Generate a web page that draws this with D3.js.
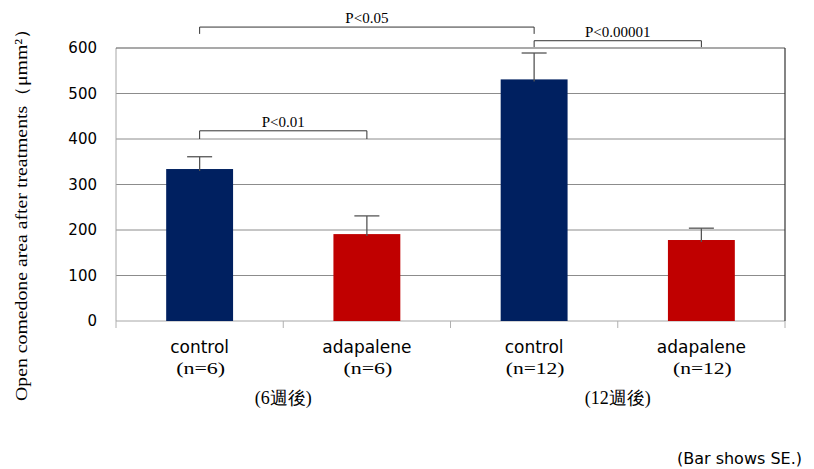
<!DOCTYPE html>
<html><head><meta charset="utf-8">
<script src="https://cdn.jsdelivr.net/npm/d3@7"></script>
<style>html,body{margin:0;padding:0;background:#fff;}svg{display:block;}</style>
</head><body>
<svg id="chart" width="814" height="469"></svg>
<script>
const categories = ["control", "adapalene", "control", "adapalene"];
const nLabels = ["(n=6)", "(n=6)", "(n=12)", "(n=12)"];
const means = [334, 191, 531, 178];
const se = [27, 40, 58, 26];
const barColors = ["#002060", "#C00000", "#002060", "#C00000"];
const groupLabels = ["(6週後)", "(12週後)"];
const groupMembers = [[0, 1], [2, 3]];
const yTicks = [0, 100, 200, 300, 400, 500, 600];
const pLabels = ["P<0.05", "P<0.01", "P<0.00001"];
const pFrom = [0, 0, 2];
const pTo = [2, 1, 3];
const pTop = [646, 418, 616];
const pLegEnd = [631, 400, 602];
const yTitle = "Open comedone area after treatments（μmm²）";
const note = "(Bar shows SE.)";

(function () {
const svg = d3.select("#chart");
const pl = 116, pr = 785, pt = 48, pb = 321;
const x = d3.scaleBand().domain(d3.range(categories.length)).range([pl, pr]).paddingInner(0.6).paddingOuter(0.3);
const y = d3.scaleLinear().domain([0, 600]).range([pb, pt]);
const cx = i => x(i) + x.bandwidth() / 2;
const serif = "'Liberation Serif','Times New Roman',serif";
const sans = "'DejaVu Sans',Verdana,sans-serif";

svg.append("g").selectAll("line").data(yTicks.filter(t => t > 0 && t < 600)).join("line")
  .attr("x1", pl).attr("x2", pr).attr("y1", d => y(d)).attr("y2", d => y(d))
  .attr("stroke", "#8c8c8c").attr("stroke-width", 1);
svg.append("line").attr("x1", pl).attr("x2", pl).attr("y1", y(600)).attr("y2", y(0))
  .attr("stroke", "#a6a6a6");
svg.append("line").attr("x1", pl).attr("x2", pr).attr("y1", y(0)).attr("y2", y(0))
  .attr("stroke", "#a6a6a6");
const bounds = d3.range(categories.length + 1).map(i => pl + i * x.step());
svg.append("g").selectAll("line").data(bounds).join("line")
  .attr("x1", d => d).attr("x2", d => d).attr("y1", y(0)).attr("y2", y(0) + 7)
  .attr("stroke", "#b0b0b0");
svg.append("line").attr("x1", pl).attr("x2", pr).attr("y1", y(600)).attr("y2", y(600))
  .attr("stroke", "#555").attr("stroke-width", 1.2);
svg.append("line").attr("x1", pr).attr("x2", pr).attr("y1", y(600)).attr("y2", y(0))
  .attr("stroke", "#333").attr("stroke-width", 1.2);

svg.append("g").selectAll("text").data(yTicks).join("text")
  .attr("x", 97).attr("y", d => y(d)).attr("dy", "0.36em").attr("text-anchor", "end")
  .attr("font-family", sans).attr("font-size", 15).attr("fill", "#000").text(d => d);

svg.append("g").selectAll("rect").data(means).join("rect")
  .attr("x", (d, i) => x(i)).attr("width", x.bandwidth())
  .attr("y", d => y(d)).attr("height", d => y(0) - y(d))
  .attr("fill", (d, i) => barColors[i]);

const eb = svg.append("g").attr("stroke", "#555").attr("stroke-width", 1.3);
means.forEach((m, i) => {
  eb.append("line").attr("x1", cx(i)).attr("x2", cx(i)).attr("y1", y(m) + 2).attr("y2", y(m + se[i]));
  eb.append("line").attr("x1", cx(i) - 12.5).attr("x2", cx(i) + 12.5).attr("y1", y(m + se[i])).attr("y2", y(m + se[i]));
});

pLabels.forEach((lab, k) => {
  const x1 = cx(pFrom[k]), x2 = cx(pTo[k]);
  svg.append("path")
    .attr("d", `M${x1},${y(pLegEnd[k])}V${y(pTop[k])}H${x2}V${y(pLegEnd[k])}`)
    .attr("fill", "none").attr("stroke", "#333").attr("stroke-width", 1);
  svg.append("text").attr("x", (x1 + x2) / 2).attr("y", y(pTop[k]) - 4)
    .attr("text-anchor", "middle").attr("font-family", serif).attr("font-size", 15)
    .text(lab);
});

svg.append("g").selectAll("text").data(categories).join("text")
  .attr("x", (d, i) => cx(i)).attr("y", 353).attr("text-anchor", "middle")
  .attr("font-family", sans).attr("font-size", 17).text(d => d);
svg.append("g").selectAll("text").data(nLabels).join("text")
  .attr("x", (d, i) => cx(i) + 1).attr("y", 374).attr("text-anchor", "middle")
  .attr("font-family", serif).attr("font-size", 16)
  .attr("textLength", d => d.length * 9.8).attr("lengthAdjust", "spacingAndGlyphs")
  .text(d => d);
svg.append("g").selectAll("text").data(groupLabels).join("text")
  .attr("x", (d, g) => (cx(groupMembers[g][0]) + cx(groupMembers[g][1])) / 2)
  .attr("y", 404).attr("text-anchor", "middle")
  .attr("font-family", serif).attr("font-size", 18).text(d => d);

svg.append("text").attr("transform", `translate(27,210) rotate(-90)`)
  .attr("text-anchor", "middle").attr("font-family", serif).attr("font-size", 17)
  .attr("textLength", 382).attr("lengthAdjust", "spacingAndGlyphs")
  .text(yTitle);

svg.append("text").attr("x", 802).attr("y", 464).attr("text-anchor", "end")
  .attr("font-family", sans).attr("font-size", 16).text(note);
})();
</script>
</body></html>
